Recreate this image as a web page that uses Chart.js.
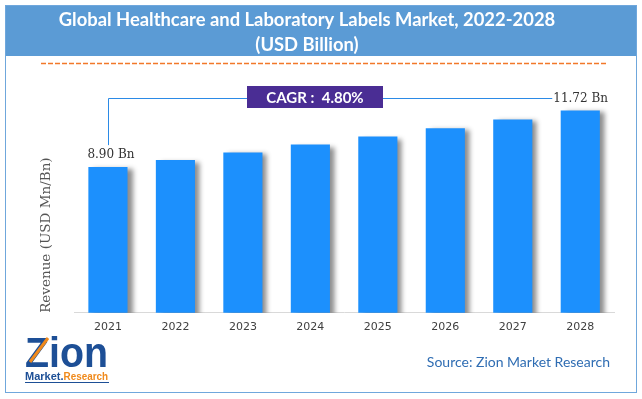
<!DOCTYPE html>
<html>
<head>
<meta charset="utf-8">
<script src="https://cdn.jsdelivr.net/npm/chart.js@4"></script>
<style>
  html, body { margin: 0; padding: 0; background: #fff; }
  #wrap { width: 642px; height: 399px; }
</style>
</head>
<body>
<div id="wrap"><canvas id="marketChart" width="642" height="399"></canvas></div>
<script>
const years = ['2021', '2022', '2023', '2024', '2025', '2026', '2027', '2028'];
const revenue = [8.90, 9.26, 9.63, 10.02, 10.42, 10.83, 11.27, 11.72];
const firstLabel = '8.90 Bn';
const lastLabel = '11.72 Bn';
const cagrText = 'CAGR :  4.80%';
const titleLines = ['Global Healthcare and Laboratory Labels Market, 2022-2028', '(USD Billion)'];
const axisTitle = 'Revenue (USD Mn/Bn)';
const sourceText = 'Source: Zion Market Research';

const barBlue = '#1c90fd';
const lineBlue = '#2b8ae6';

// frame, header band, dashed rule, logo and source
const framePlugin = {
  id: 'frame',
  beforeDraw(chart) {
    const ctx = chart.ctx;
    ctx.save();
    ctx.fillStyle = '#fff';
    ctx.fillRect(0, 0, chart.width, chart.height);
    ctx.fillStyle = '#5b9bd5';
    ctx.fillRect(5, 5, 632, 51);
    ctx.strokeStyle = '#6fa7dc';
    ctx.lineWidth = 1;
    ctx.strokeRect(5.5, 5.5, 631, 387);

    ctx.strokeStyle = '#f2782a';
    ctx.lineWidth = 1.5;
    ctx.setLineDash([5, 2]);
    ctx.beginPath();
    ctx.moveTo(41, 63.5);
    ctx.lineTo(606, 63.5);
    ctx.stroke();
    ctx.setLineDash([]);

    // logo
    ctx.fillStyle = '#1d4f96';
    ctx.font = 'bold 42px "Liberation Sans"';
    ctx.textBaseline = 'alphabetic';
    ctx.textAlign = 'left';
    ctx.fillText('Zion', 25, 367, 83);
    ctx.strokeStyle = '#f08a1c';
    ctx.lineWidth = 3;
    ctx.beginPath();
    ctx.moveTo(30, 362);
    ctx.lineTo(48, 338);
    ctx.stroke();
    ctx.font = 'bold 11px "Liberation Sans"';
    ctx.fillStyle = '#1d4f96';
    ctx.fillText('Market.', 25, 380);
    const mw = ctx.measureText('Market.').width;
    ctx.fillStyle = '#f08a1c';
    ctx.fillText('Research', 25 + mw, 380, 108 - 25 - mw);
    ctx.strokeStyle = '#1d4f96';
    ctx.lineWidth = 1;
    ctx.beginPath();
    ctx.moveTo(25, 382.5);
    ctx.lineTo(109, 382.5);
    ctx.stroke();

    ctx.fillStyle = '#2f6db3';
    ctx.font = '14px Lato';
    ctx.textAlign = 'right';
    ctx.textBaseline = 'middle';
    ctx.fillText(sourceText, 610, 362);
    ctx.restore();
  }
};

// soft shadow to the right of each bar
const shadowPlugin = {
  id: 'barShadow',
  beforeDatasetsDraw(chart) {
    const ctx = chart.ctx;
    ctx.save();
    ctx.shadowColor = 'rgba(0,0,0,0.45)';
    ctx.shadowBlur = 5;
    ctx.shadowOffsetX = 5;
    ctx.shadowOffsetY = 2;
  },
  afterDatasetsDraw(chart) {
    chart.ctx.restore();
  }
};

// first / last value labels and the CAGR callout
const calloutPlugin = {
  id: 'callout',
  afterDatasetsDraw(chart) {
    const ctx = chart.ctx;
    const bars = chart.getDatasetMeta(0).data;
    const first = bars[0];
    const last = bars[bars.length - 1];
    const lineY = 98.5;
    const boxL = 247, boxR = 383, boxT = 86, boxB = 108;

    ctx.save();
    ctx.font = '12px "DejaVu Serif"';
    ctx.fillStyle = '#333';
    ctx.textBaseline = 'middle';
    ctx.textAlign = 'center';
    ctx.fillText(firstLabel, first.x + 3, first.y - 12);
    ctx.textAlign = 'left';
    ctx.fillText(lastLabel, last.x - 27, lineY);

    ctx.strokeStyle = lineBlue;
    ctx.lineWidth = 1;
    ctx.beginPath();
    const vx = Math.round(first.x) + 0.5;
    ctx.moveTo(vx, first.y - 22);
    ctx.lineTo(vx, lineY);
    ctx.lineTo(boxL, lineY);
    ctx.moveTo(boxR, lineY);
    ctx.lineTo(last.x - 28, lineY);
    ctx.stroke();

    ctx.fillStyle = '#4a2d94';
    ctx.fillRect(boxL, boxT, boxR - boxL, boxB - boxT);
    ctx.fillStyle = '#fff';
    ctx.font = 'bold 15px Lato';
    ctx.textAlign = 'center';
    ctx.fillText(cagrText, (boxL + boxR) / 2, (boxT + boxB) / 2 + 1);
    ctx.restore();
  }
};

new Chart(document.getElementById('marketChart'), {
  type: 'bar',
  data: {
    labels: years,
    datasets: [{
      data: revenue,
      backgroundColor: barBlue,
      borderWidth: 0,
      categoryPercentage: 1,
      barPercentage: 0.58
    }]
  },
  options: {
    responsive: false,
    animation: false,
    layout: {
      padding: { left: 0, right: 28, top: 0, bottom: 57 }
    },
    scales: {
      x: {
        grid: { display: false, drawTicks: false },
        border: { display: true, color: '#d9d9d9', width: 1 },
        ticks: {
          color: '#404040',
          padding: 8,
          font: { family: 'DejaVu Sans', size: 11 }
        }
      },
      y: {
        min: 1.65,
        max: 12.73,
        grid: { display: false, drawTicks: false },
        border: { display: false },
        ticks: { display: false },
        title: {
          display: true,
          text: axisTitle,
          align: 'start',
          color: '#555',
          font: { family: 'DejaVu Serif', size: 13.5 },
          padding: { top: 38, bottom: 20 }
        }
      }
    },
    plugins: {
      legend: { display: false },
      tooltip: { enabled: false },
      title: {
        display: true,
        text: titleLines,
        color: '#fff',
        font: { family: 'Lato', size: 18.4, weight: 'bold', lineHeight: 1.39 },
        padding: { top: 7, bottom: 32 }
      }
    }
  },
  plugins: [framePlugin, shadowPlugin, calloutPlugin]
});
</script>
</body>
</html>
